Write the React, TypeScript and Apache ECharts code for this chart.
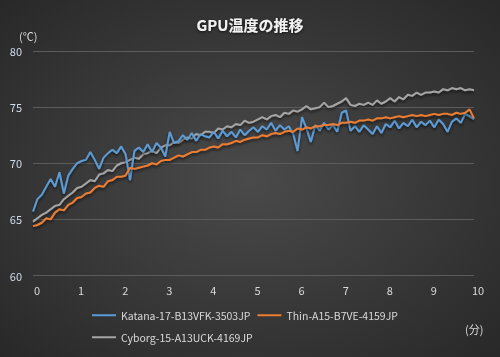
import React, { useEffect, useRef } from "react";
import * as echarts from "echarts";

const title = "GPU温度の推移";
const seriesNames = ["Katana-17-B13VFK-3503JP", "Thin-A15-B7VE-4159JP", "Cyborg-15-A13UCK-4169JP"];
const colors = ["#5b9bd5", "#ed7d31", "#a5a5a5"];
const xTicks = [0, 1, 2, 3, 4, 5, 6, 7, 8, 9, 10];
const yTicks = [60, 65, 70, 75, 80];

// samples every 0.1 min (0 .. 10)
const katana = [
  65.7, 66.8, 67.2, 67.9, 68.6, 67.9, 69.2, 67.3, 68.9, 69.5,
  70.0, 70.2, 70.3, 71.0, 70.3, 69.5, 70.5, 70.9, 71.2, 70.9,
  71.5, 70.8, 68.5, 71.1, 71.4, 71.0, 71.7, 71.0, 71.8, 71.4,
  70.6, 72.8, 71.8, 72.0, 72.5, 72.1, 72.7, 72.0, 72.6, 72.4,
  72.3, 72.8, 72.2, 72.9, 72.4, 72.8, 72.3, 73.0, 72.5, 72.9,
  73.2, 72.8, 73.3, 73.0, 73.6, 72.9, 73.4, 73.0, 73.3, 72.6,
  71.1, 74.1, 73.1, 71.9, 73.4, 72.9, 73.6, 73.0, 73.4, 72.8,
  74.5, 74.7, 72.9, 73.3, 72.8, 73.4, 73.0, 72.6, 73.3, 72.7,
  73.5, 73.2, 73.8, 73.1, 73.6, 73.3, 73.9, 73.2, 73.7, 73.4,
  73.8, 73.2, 73.9, 73.5, 72.8, 73.7, 74.0, 73.6, 74.4, 74.2,
  73.9,
];
const thin = [
  64.4, 64.5, 64.7, 65.1, 65.0, 65.6, 65.9, 65.8, 66.3, 66.5,
  66.9, 67.0, 67.3, 67.4, 67.8, 68.0, 67.9, 68.4, 68.5, 68.8,
  68.8, 68.9, 69.6, 69.5, 69.6, 69.7, 69.8, 70.0, 69.9, 70.2,
  70.3, 70.3, 70.5, 70.7, 70.6, 70.8, 71.0, 71.0, 71.2, 71.2,
  71.4, 71.5, 71.4, 71.7, 71.7, 71.8, 72.0, 71.9, 72.1, 72.2,
  72.3, 72.3, 72.5, 72.4, 72.6, 72.7, 72.6, 72.8, 72.9, 72.8,
  73.1, 73.0, 73.2, 73.1, 73.3, 73.3, 73.4, 73.4, 73.5, 73.4,
  73.6, 73.6, 73.7, 73.6, 73.8, 73.8, 73.9, 73.8, 74.0, 74.0,
  74.1, 74.0, 74.1, 74.2, 74.1, 74.2, 74.3, 74.2, 74.3, 74.2,
  74.3, 74.4, 74.3, 74.4, 74.4, 74.3, 74.5, 74.4, 74.5, 74.8,
  74.0,
];
const cyborg = [
  64.8, 65.1, 65.4, 65.6, 65.9, 66.2, 66.3, 66.8, 67.1, 67.4,
  67.8, 67.9, 68.2, 68.5, 68.4, 69.0, 69.1, 69.4, 69.3, 69.8,
  70.0, 70.1, 70.3, 70.5, 70.4, 70.8, 70.9, 71.1, 70.9, 71.4,
  71.6, 71.6, 71.9, 71.8, 72.1, 72.3, 72.2, 72.6, 72.5, 72.8,
  72.8, 72.7, 73.1, 73.0, 73.3, 73.2, 73.5, 73.4, 73.8, 73.6,
  73.7, 73.9, 74.1, 73.9, 74.2, 74.3, 74.1, 74.5, 74.4, 74.7,
  74.6, 74.8, 75.1, 74.8, 74.9, 75.0, 75.4, 75.0, 75.1, 75.3,
  75.5, 75.8, 75.2, 75.1, 75.3, 75.2, 75.4, 75.2, 75.6, 75.3,
  75.5, 75.8, 75.5, 75.9, 75.7, 76.1, 76.0, 76.3, 76.1, 76.3,
  76.3, 76.4, 76.3, 76.6, 76.5, 76.7, 76.6, 76.7, 76.5, 76.6,
  76.5,
];
const minutes = katana.map((_, i) => i / 10);

export default function App() {
  const ref = useRef<HTMLDivElement>(null);
  useEffect(() => {
    if (!ref.current) return;
    const chart = echarts.init(ref.current, undefined, { renderer: "svg" });
    const font = "'Noto Sans CJK JP', 'Noto Sans', sans-serif";
    const allSeries = [katana, thin, cyborg];
    const legendText = { color: "#d9d9d9", fontSize: 10.5, fontFamily: font };
    chart.setOption({
      animation: false,
      backgroundColor: new echarts.graphic.RadialGradient(0.5, 0.5, 0.75, [
        { offset: 0, color: "#4a4a4a" },
        { offset: 1, color: "#262626" },
      ]),
      title: {
        text: title,
        left: "center",
        top: 12,
        textStyle: {
          color: "#f2f2f2",
          fontSize: 15,
          fontWeight: "bold",
          fontFamily: font,
          textShadowColor: "rgba(0,0,0,0.7)",
          textShadowBlur: 3,
          textShadowOffsetY: 1,
        },
      },
      grid: { left: 33, right: 26, top: 51, bottom: 81.5, containLabel: false },
      legend: [
        {
          data: [seriesNames[0], seriesNames[1]],
          left: 92,
          top: 310,
          padding: 0,
          icon: "rect",
          itemWidth: 24,
          itemHeight: 2,
          itemGap: 7,
          textStyle: legendText,
        },
        {
          data: [seriesNames[2]],
          left: 92,
          top: 332,
          padding: 0,
          icon: "rect",
          itemWidth: 24,
          itemHeight: 2,
          textStyle: legendText,
        },
      ],
      xAxis: {
        type: "value",
        min: xTicks[0],
        max: xTicks[xTicks.length - 1],
        interval: 1,
        axisLine: { show: false },
        axisTick: { show: false },
        splitLine: { show: false },
        axisLabel: {
          color: "#d9d9d9",
          fontSize: 11,
          fontFamily: font,
          margin: 9,
          padding: [0, 0, 0, 8],
        },
      },
      yAxis: {
        type: "value",
        min: yTicks[0],
        max: yTicks[yTicks.length - 1],
        interval: 5,
        axisLine: { show: false },
        axisTick: { show: false },
        splitLine: { lineStyle: { color: "#5c5c5c", width: 1 } },
        axisLabel: { color: "#cfdcec", fontSize: 11, fontFamily: font, margin: 11 },
      },
      graphic: [
        {
          type: "text",
          left: 19,
          top: 30,
          style: { text: "(℃)", fill: "#d9d9d9", fontSize: 11, fontFamily: font },
        },
        {
          type: "text",
          left: 465,
          top: 323,
          style: { text: "(分)", fill: "#d9d9d9", fontSize: 11, fontFamily: font },
        },
      ],
      series: seriesNames.map((name, k) => ({
        name,
        type: "line",
        data: allSeries[k].map((v, i) => [minutes[i], v]),
        showSymbol: false,
        symbol: "none",
        color: colors[k],
        z: k === 0 ? 3 : k === 1 ? 4 : 2,
        lineStyle: {
          width: 2,
          color: colors[k],
          shadowColor: "rgba(0,0,0,0.6)",
          shadowBlur: 3,
          shadowOffsetY: 2,
        },
      })),
    });
    return () => chart.dispose();
  }, []);
  return (
    <div
      ref={ref}
      style={{ position: "fixed", left: 0, top: 0, width: 500, height: 357 }}
    />
  );
}
